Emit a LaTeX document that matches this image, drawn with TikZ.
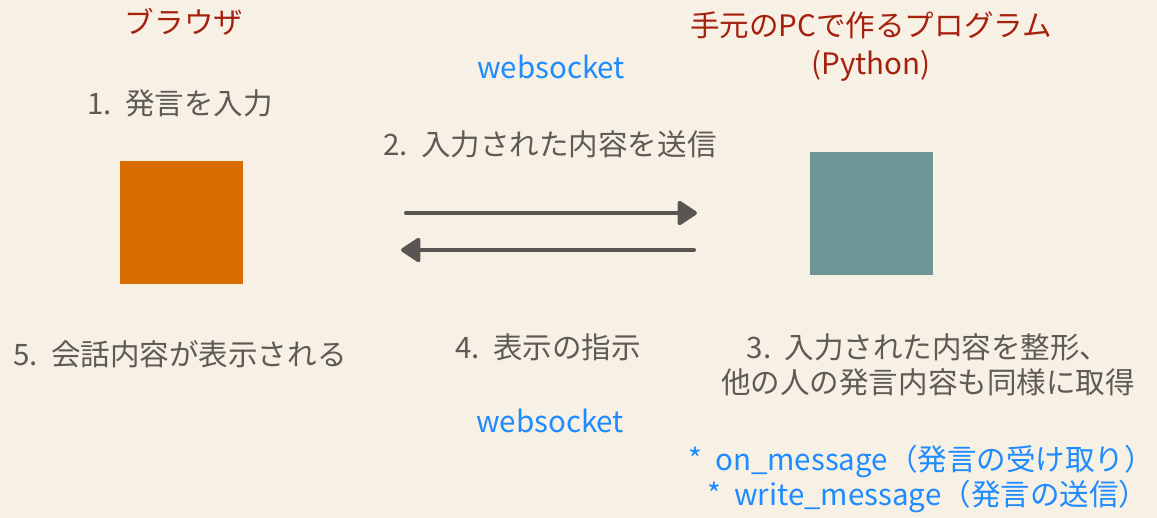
\documentclass[tikz,border=0pt]{standalone}
\usepackage{fontspec}
\setmainfont{Noto Sans CJK JP}
\usepackage{tikz}
\usetikzlibrary{arrows.meta}

\definecolor{bgcream}{HTML}{F7F0E4}
\definecolor{redtxt}{HTML}{A6200E}
\definecolor{graytxt}{HTML}{5F5A55}
\definecolor{bluetxt}{HTML}{1E8BFF}
\definecolor{orangebox}{HTML}{D96C00}
\definecolor{tealbox}{HTML}{6E9598}
\definecolor{arrowgray}{HTML}{5A5553}

\begin{document}
\begin{tikzpicture}[
  x=0.025cm, y=-0.025cm,
  txt/.style={font=\fontsize{21}{25}\selectfont, text=graytxt, inner sep=1pt, align=center},
  title/.style={txt, font=\fontsize{21}{27}\selectfont, text=redtxt},
  wsock/.style={txt, text=bluetxt},
  sqbox/.style={minimum size=3.05cm, inner sep=0pt},
  flow/.style={draw=arrowgray, line width=2.8pt, line cap=round,
    -{Triangle[length=15pt, width=19pt, round]}}
]

\fill[bgcream] (0,0) rectangle (1157,518);
\useasboundingbox (0,0) rectangle (1157,518);

% browser side
\node[title] (tbrowser) at (184, 22) {ブラウザ};
\node[txt] (step1) at (180, 103) {1.\ \ 発言を入力};
\node[sqbox, fill=orangebox] (browser) at (181.5, 222.5) {};
\node[txt] (step5) at (180, 354) {5.\ \ 会話内容が表示される};

% program side
\node[title] (tprog) at (871, 47) {手元のPCで作るプログラム\\(Python)};
\node[sqbox, fill=tealbox] (prog) at (871.5, 213.5) {};
\node[txt] (step3) at (928, 364.5) {3.\ \ 入力された内容を整形、\\他の人の発言内容も同様に取得};
\node[wsock] (handlers) at (921, 479) {*\ \ on\_message（発言の受け取り）\\\ \ *\ \ write\_message（発言の送信）};

% middle
\node[wsock] (ws1) at (551, 67) {websocket};
\node[txt] (step2) at (550, 144) {2.\ \ 入力された内容を送信};
\node[txt] (step4) at (548, 347) {4.\ \ 表示の指示};
\node[wsock] (ws2) at (550, 421) {websocket};

\coordinate (send0) at (406, 213);
\coordinate (send1) at (697, 213);
\coordinate (back0) at (694, 250);
\coordinate (back1) at (401, 250);
\draw[flow] (send0) -- (send1);
\draw[flow] (back0) -- (back1);

\end{tikzpicture}
\end{document}
